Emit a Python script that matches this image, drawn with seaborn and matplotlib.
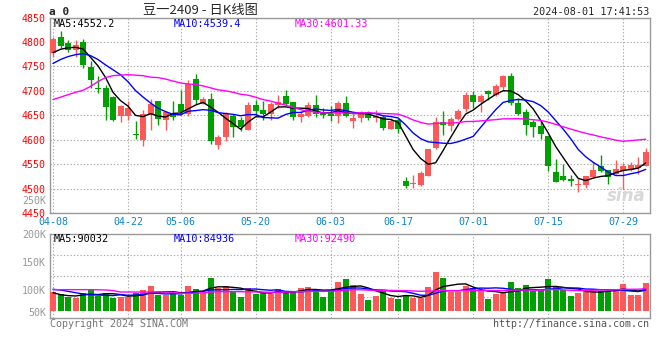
import numpy as np
import pandas as pd
import matplotlib
matplotlib.use("Agg")
import matplotlib.pyplot as plt
import seaborn as sns

# trading days shown (04-08 .. 08-01)
dates = ["04-08", "04-09", "04-10", "04-11", "04-12", "04-15", "04-16", "04-17", "04-18", "04-19",
         "04-22", "04-23", "04-24", "04-25", "04-26", "04-29", "04-30",
         "05-06", "05-07", "05-08", "05-09", "05-10", "05-13", "05-14", "05-15", "05-16", "05-17",
         "05-20", "05-21", "05-22", "05-23", "05-24", "05-27", "05-28", "05-29", "05-30", "05-31",
         "06-03", "06-04", "06-05", "06-06", "06-07", "06-11", "06-12", "06-13", "06-14",
         "06-17", "06-18", "06-19", "06-20", "06-21", "06-24", "06-25", "06-26", "06-27", "06-28",
         "07-01", "07-02", "07-03", "07-04", "07-05", "07-08", "07-09", "07-10", "07-11", "07-12",
         "07-15", "07-16", "07-17", "07-18", "07-19", "07-22", "07-23", "07-24", "07-25", "07-26",
         "07-29", "07-30", "07-31", "08-01"]

opens = [4777, 4811, 4798, 4783, 4799, 4749, 4706, 4705, 4687, 4648,
         4649, 4611, 4599, 4651, 4679, 4641, 4655, 4672, 4653, 4725,
         4674, 4684, 4590, 4605, 4649, 4641, 4620, 4670, 4661, 4653,
         4670, 4690, 4678, 4646, 4648, 4670, 4655, 4652, 4648, 4675,
         4638, 4644, 4656, 4644, 4646, 4622, 4640, 4515, 4509, 4507,
         4526, 4582, 4637, 4629, 4643, 4663, 4692, 4678, 4699, 4692,
         4707, 4730, 4675, 4657, 4636, 4629, 4607, 4533, 4526, 4520,
         4507, 4508, 4523, 4546, 4537, 4530, 4535, 4539, 4542, 4547]
highs = [4811, 4823, 4803, 4803, 4806, 4760, 4731, 4711, 4690, 4670,
         4680, 4639, 4661, 4684, 4680, 4659, 4680, 4702, 4723, 4735,
         4688, 4696, 4610, 4656, 4653, 4646, 4678, 4682, 4680, 4678,
         4692, 4702, 4678, 4658, 4678, 4692, 4665, 4668, 4680, 4690,
         4653, 4659, 4659, 4661, 4650, 4644, 4644, 4523, 4528, 4535,
         4581, 4646, 4659, 4646, 4663, 4697, 4700, 4694, 4702, 4714,
         4733, 4737, 4685, 4662, 4641, 4638, 4608, 4561, 4551, 4528,
         4520, 4525, 4554, 4569, 4537, 4558, 4552, 4554, 4564, 4582]
lows = [4770, 4787, 4779, 4770, 4746, 4705, 4696, 4641, 4639, 4636,
        4641, 4601, 4588, 4620, 4631, 4619, 4641, 4651, 4649, 4673,
        4673, 4591, 4581, 4597, 4605, 4618, 4620, 4649, 4640, 4640,
        4665, 4670, 4641, 4637, 4646, 4646, 4644, 4639, 4634, 4646,
        4623, 4636, 4640, 4636, 4619, 4622, 4614, 4501, 4502, 4505,
        4525, 4580, 4610, 4617, 4641, 4656, 4665, 4656, 4682, 4690,
        4699, 4670, 4651, 4610, 4605, 4602, 4535, 4513, 4515, 4505,
        4492, 4502, 4522, 4533, 4509, 4529, 4500, 4535, 4530, 4546]
closes = [4807, 4791, 4784, 4794, 4752, 4722, 4703, 4666, 4641, 4668,
          4665, 4609, 4653, 4672, 4642, 4656, 4646, 4657, 4714, 4681,
          4684, 4597, 4605, 4653, 4626, 4626, 4670, 4659, 4653, 4674,
          4678, 4672, 4646, 4653, 4670, 4653, 4651, 4648, 4675, 4648,
          4645, 4652, 4644, 4649, 4623, 4639, 4622, 4505, 4510, 4532,
          4580, 4637, 4631, 4643, 4659, 4692, 4678, 4690, 4694, 4709,
          4730, 4675, 4653, 4631, 4626, 4612, 4547, 4514, 4518, 4515,
          4510, 4525, 4539, 4535, 4523, 4541, 4547, 4549, 4549, 4575]
volumes = [95900, 92300, 87500, 86300, 94100, 101800, 89900, 94600, 86300, 86900,
           86900, 94600, 100600, 107100, 91100, 91100, 95200, 91100, 107100, 101800,
           95200, 121300, 103000, 107100, 97000, 88100, 104200, 92900, 94100, 92900,
           101800, 94100, 98800, 104200, 105900, 101800, 88100, 100000, 114900, 119600,
           108900, 92900, 82100, 89300, 100000, 86300, 83900, 91100, 86300, 86300,
           104800, 132100, 121400, 97000, 97000, 107100, 104200, 98200, 83900, 92300,
           97000, 114300, 103600, 108300, 98800, 100000, 119600, 105400, 100000, 89300,
           95200, 97000, 101200, 98200, 98200, 100000, 110700, 91100, 91100, 113100]

# moving-average values before the window fills
ma5_head = [4778, 4785, 4788, 4789]
ma10_head = [4756, 4764, 4770, 4774, 4776, 4772, 4764, 4753, 4743]
ma30_head = [4682, 4687, 4692, 4697, 4701, 4709, 4719, 4727, 4731, 4732,
             4733, 4732, 4731, 4728, 4727, 4724, 4720, 4716, 4714, 4713,
             4710, 4706, 4702, 4700, 4697, 4693, 4691, 4687, 4682]
vol_ma5_head = [95200, 91600, 90000, 89300]
vol_ma10_head = [101200, 100000, 97600, 95200, 92900, 91600, 91100, 90500, 90000]
vol_ma30_head = [100600, 100600, 100600, 100600, 100600, 100600, 100400, 100000, 99000,
                 96400, 96400, 96400, 96400, 96400, 96400, 96400, 96000,
                 94100, 94100, 94100, 95000,
                 96400, 97000, 97000, 97000, 97000, 96800, 96400, 96200]

tick_dates = ["04-08", "04-22", "05-06", "05-20", "06-03", "06-17", "07-01", "07-15", "07-29"]
price_ticks = [4450, 4500, 4550, 4600, 4650, 4700, 4750, 4800, 4850]
vol_ticks = [50000, 100000, 150000, 200000]
vol_tick_labels = ["50K", "100K", "150K", "200K"]

title = "豆一2409 - 日K线图"
stamp = "2024-08-01 17:41:53"
price_ma_labels = ["MA5:4552.2", "MA10:4539.4", "MA30:4601.33"]
vol_ma_labels = ["MA5:90032", "MA10:84936", "MA30:92490"]

UP = "#ff5858"
DOWN = "#00a000"
MA_COLORS = ["black", "#0000ff", "#ff00ff"]
GRID = "#aaaaaa"
MONO = "DejaVu Sans Mono"

sns.set_style("white")
plt.rcParams["font.family"] = [MONO, "DejaVu Sans"]


def with_head(values, n, head):
    s = pd.Series(values, dtype=float).rolling(n).mean()
    s.iloc[:len(head)] = head
    return s.values


df = pd.DataFrame({"date": dates, "open": opens, "high": highs, "low": lows,
                   "close": closes, "volume": volumes})
df["i"] = np.arange(len(df))
df["color"] = np.where(df["close"] >= df["open"], UP, DOWN)
df["ma5"] = with_head(closes, 5, ma5_head)
df["ma10"] = with_head(closes, 10, ma10_head)
df["ma30"] = with_head(closes, 30, ma30_head)
df["vma5"] = with_head(volumes, 5, vol_ma5_head)
df["vma10"] = with_head(volumes, 10, vol_ma10_head)
df["vma30"] = with_head(volumes, 30, vol_ma30_head)

W, H = 660, 360
fig = plt.figure(figsize=(W / 100, H / 100), dpi=100)
fig.patch.set_facecolor("white")


def fx(x):
    return x / W


def fy(y):
    return 1 - y / H


ax = fig.add_axes([fx(50), fy(213), 600 / W, (213 - 17.5) / H])
axv = fig.add_axes([fx(50), fy(318), 600 / W, 84 / H])

tick_pos = [dates.index(d) for d in tick_dates]

# --- price panel ---
ax.vlines(df["i"], df["low"], df["high"], colors=df["color"], lw=1, zorder=2)
body = (df["close"] - df["open"]).abs().clip(lower=1.5)
ax.bar(df["i"], body, bottom=df[["open", "close"]].min(axis=1), width=0.8,
       color=df["color"], linewidth=0, zorder=3)
for col, c in zip(["ma5", "ma10", "ma30"], MA_COLORS):
    sns.lineplot(x=df["i"], y=df[col], ax=ax, color=c, lw=1, zorder=4)

ax.set_xlim(-0.4, 79.57)
ax.set_ylim(4450, 4850)
ax.set_yticks(price_ticks)
ax.set_yticklabels([str(p) for p in price_ticks], color="#ff0000", fontsize=7.2)
ax.set_xticks(tick_pos)
ax.set_xticklabels(tick_dates, color="#0a84cc", fontsize=7.2)
ax.tick_params(length=0, pad=3)
ax.grid(True, color=GRID, linestyle=(0, (1.2, 1.8)), lw=0.8)
ax.set_xlabel("")
ax.set_ylabel("")

# --- volume panel ---
vol_base = 62500
axv.bar(df["i"], df["volume"] - vol_base, bottom=vol_base, width=0.8,
        color=df["color"], linewidth=0, zorder=3)
for col, c in zip(["vma5", "vma10", "vma30"], MA_COLORS):
    sns.lineplot(x=df["i"], y=df[col], ax=axv, color=c, lw=1, zorder=4)

axv.set_xlim(-0.4, 79.57)
axv.set_ylim(50000, 200000)
axv.set_yticks(vol_ticks)
axv.set_yticklabels(vol_tick_labels, color="#999999", fontsize=7.2)
axv.get_yticklabels()[0].set_va("bottom")
axv.set_yticks([87500, 125000, 162500], minor=True)
axv.set_xticks(tick_pos)
axv.set_xticklabels([])
axv.tick_params(which="both", length=0, pad=3)
axv.grid(True, axis="x", color=GRID, linestyle=(0, (1.2, 1.8)), lw=0.8)
axv.grid(True, axis="y", which="minor", color=GRID, linestyle=(0, (1.2, 1.8)), lw=0.8)
axv.set_xlabel("")
axv.set_ylabel("")

for a in (ax, axv):
    for sp in a.spines.values():
        sp.set_color("#999999")
        sp.set_linewidth(1)

# stray volume-axis label inside the price panel
fig.text(fx(46), fy(201), "250K", color="#999999", fontsize=7.2, ha="right", va="center")

# header texts
fig.text(fx(49), fy(12), "a 0", fontsize=8, fontweight="bold", ha="left", va="center")
fig.text(fx(200), fy(10.5), title, fontsize=9.5, ha="center", va="center",
         family=["Noto Sans CJK SC", "DejaVu Sans"])
fig.text(fx(649), fy(12), stamp, fontsize=7.3, ha="right", va="center")

# MA legends
for x, label, c in zip([54, 174, 295], price_ma_labels, MA_COLORS):
    fig.text(fx(x), fy(24), label, color=c, fontsize=7.3, ha="left", va="center")
for x, label, c in zip([54, 174, 295], vol_ma_labels, MA_COLORS):
    fig.text(fx(x), fy(238.5), label, color=c, fontsize=7.3, ha="left", va="center")

# watermark + footer
fig.text(fx(646), fy(196), "sina", color="#d8d8d8", fontsize=12, fontweight="bold",
         style="italic", ha="right", va="center", family="DejaVu Sans")
fig.text(fx(50), fy(324), "Copyright 2024 SINA.COM", color="#777777", fontsize=7.2,
         ha="left", va="center")
fig.text(fx(649), fy(324), "http://finance.sina.com.cn", color="#555555", fontsize=7.2,
         ha="right", va="center")

fig.savefig("out.png", dpi=100)
